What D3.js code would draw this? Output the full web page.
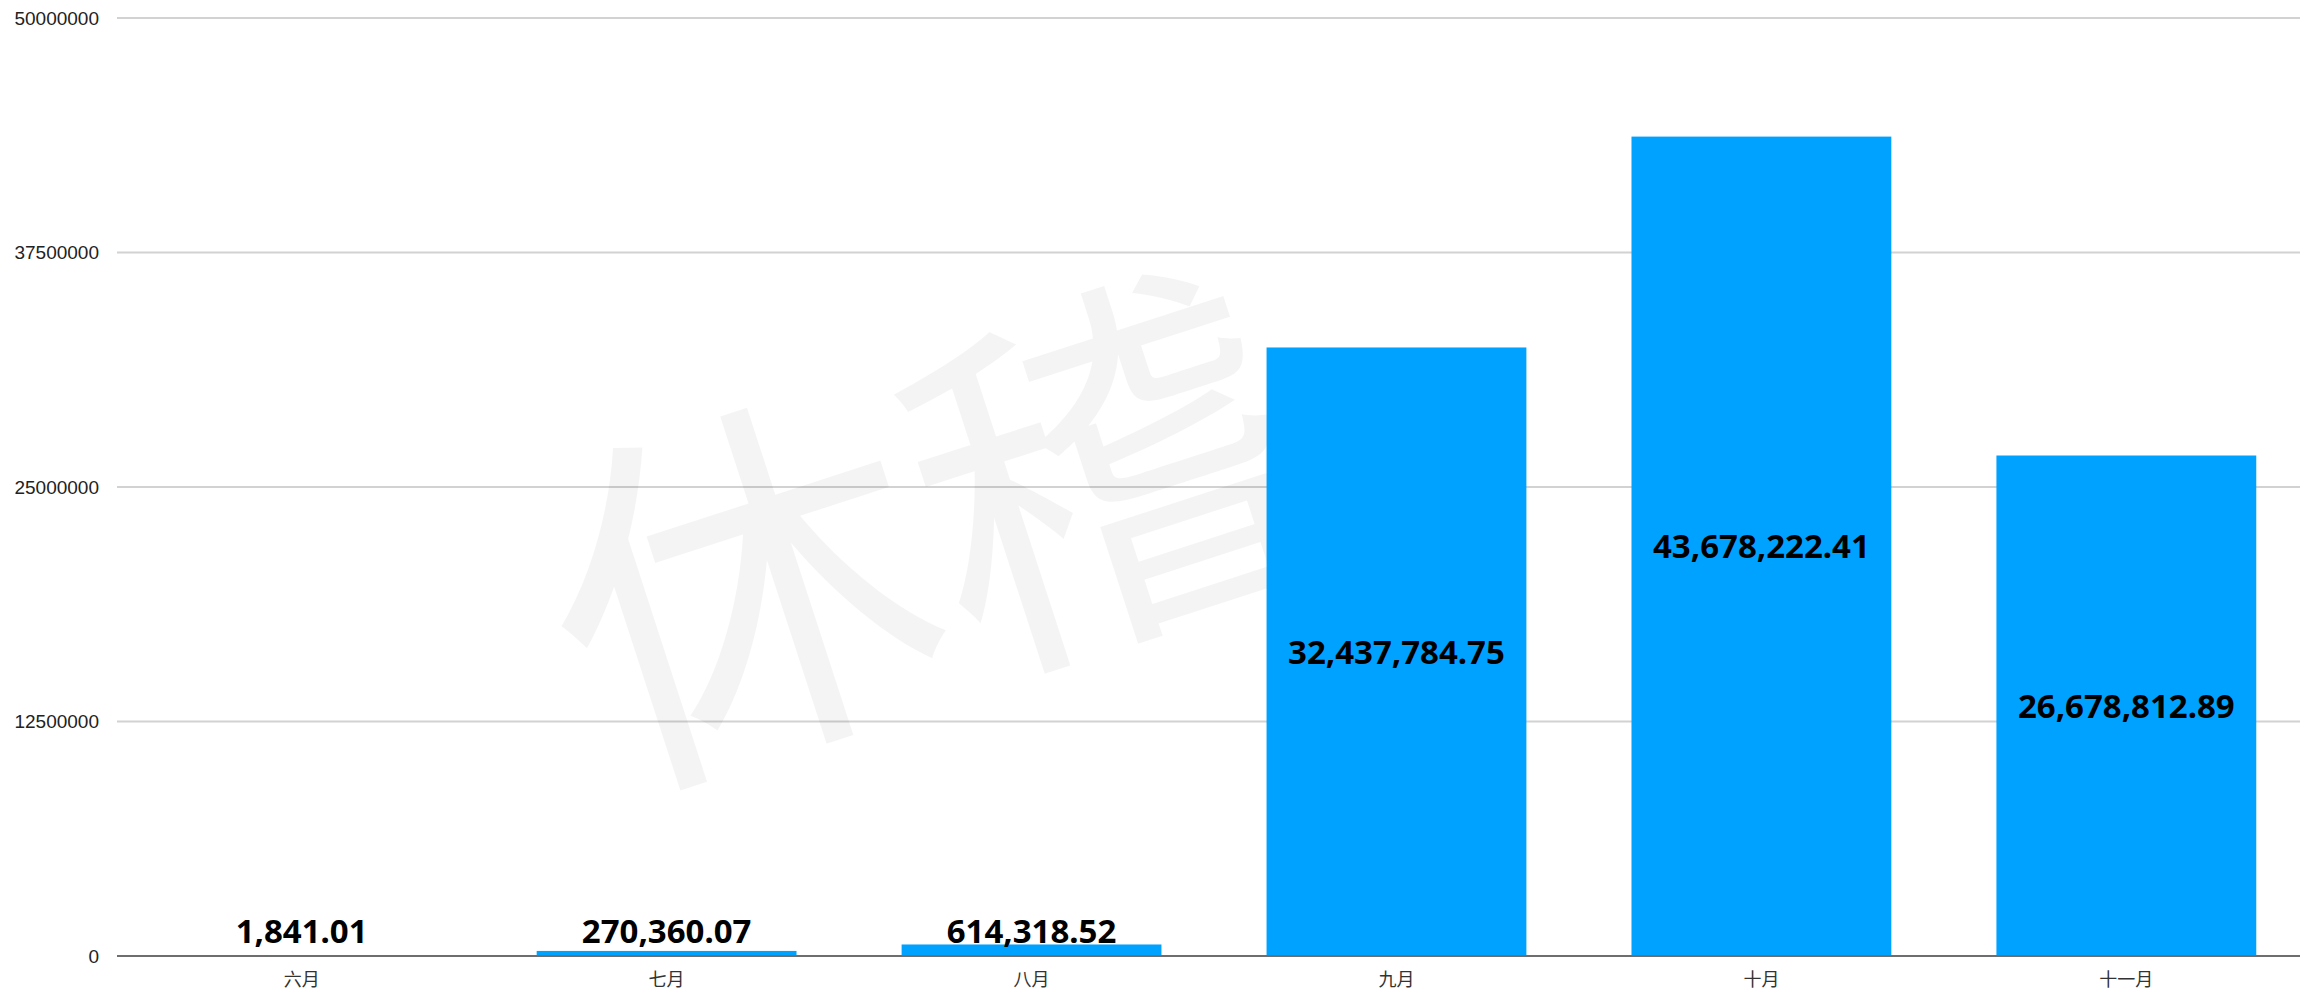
<!doctype html>
<meta charset="utf-8">
<title>月度金额</title>
<style>
body {
  margin: 0px;
  background: #fff;
}
svg {
  display: block;
}
.grid line {
  stroke: #d2d2d2;
  stroke-width: 2px;
}
.ylab {
  font-family: "Liberation Sans", Arial, sans-serif;
  font-size: 19px;
  fill: #222;
}
.xlab {
  font-family: "Noto Sans CJK SC", sans-serif;
  font-size: 18px;
  fill: #333;
}
.val {
  font-family: "Noto Sans", "Open Sans", sans-serif;
  font-weight: bold;
  font-size: 33px;
  fill: #000;
}
</style>
<script src="https://d3js.org/d3.v7.min.js"></script>
<body>
<script>
var width = 2300, height = 991;

// data
var months = ["六月", "七月", "八月", "九月", "十月", "十一月"];
var amounts = [1841.01, 270360.07, 614318.52, 32437784.75, 43678222.41, 26678812.89];
var yTicks = [0, 12500000, 25000000, 37500000, 50000000];

var svg = d3.select("body").append("svg")
    .attr("width", width)
    .attr("height", height);

var x = d3.scaleBand()
    .domain(months)
    .range([117, 2311])
    .paddingInner(0.288)
    .paddingOuter(0.15);

var y = d3.scaleLinear()
    .domain([0, 50000000])
    .range([956, 18]);

// gridlines
var grid = svg.append("g").attr("class", "grid");
grid.selectAll("line")
    .data(yTicks.filter(function(d) { return d > 0; }))
  .enter().append("line")
    .attr("x1", 117)
    .attr("x2", width)
    .attr("y1", function(d) { return y(d); })
    .attr("y2", function(d) { return y(d); });

svg.append("g").selectAll("text")
    .data(yTicks)
  .enter().append("text")
    .attr("class", "ylab")
    .attr("x", 99)
    .attr("y", function(d) { return y(d); })
    .attr("dy", "0.35em")
    .attr("text-anchor", "end")
    .text(function(d) { return d; });

// watermark
svg.append("text")
    .attr("transform", "translate(925,540) rotate(-18)")
    .attr("text-anchor", "middle")
    .attr("dy", "0.35em")
    .style("font-family", "'Noto Sans CJK SC', sans-serif")
    .style("font-size", "380px")
    .style("fill", "#000")
    .style("fill-opacity", 0.045)
    .text("休稽");

// bars
svg.append("g").selectAll("rect")
    .data(amounts)
  .enter().append("rect")
    .attr("x", function(d, i) { return x(months[i]); })
    .attr("width", x.bandwidth())
    .attr("y", function(d) { return y(d); })
    .attr("height", function(d) { return y(0) - y(d); })
    .attr("fill", "#00a2ff");

// baseline
svg.append("line")
    .attr("x1", 117)
    .attr("x2", width)
    .attr("y1", y(0))
    .attr("y2", y(0))
    .attr("stroke", "#6e6e6e")
    .attr("stroke-width", 2);

var fmt = d3.format(",.2f");
svg.append("g").selectAll("text")
    .data(amounts)
  .enter().append("text")
    .attr("class", "val")
    .attr("text-anchor", "middle")
    .attr("x", function(d, i) { return x(months[i]) + x.bandwidth() / 2; })
    .attr("y", function(d) {
      var h = y(0) - y(d);
      return h < 60 ? y(0) - 13 : (y(d) + y(0)) / 2;
    })
    .attr("dy", function(d) { return (y(0) - y(d)) < 60 ? 0 : "0.36em"; })
    .text(function(d) { return fmt(d); });

svg.append("g").selectAll("text")
    .data(months)
  .enter().append("text")
    .attr("class", "xlab")
    .attr("text-anchor", "middle")
    .attr("x", function(d) { return x(d) + x.bandwidth() / 2; })
    .attr("y", 980)
    .attr("dy", "0.35em")
    .text(function(d) { return d; });
</script>
</body>
